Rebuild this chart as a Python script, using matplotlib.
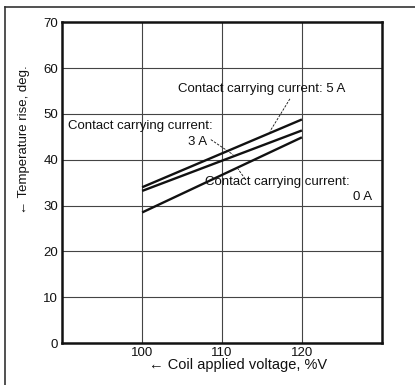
import matplotlib
matplotlib.use("Agg")
import matplotlib.pyplot as plt
from matplotlib.lines import Line2D

plt.rcParams["font.family"] = ["Liberation Sans", "DejaVu Sans"]

# ── Data ──────────────────────────────────────────────────────────────────────
VOLTAGE = [100, 120]           # coil applied voltage, %V
RISE_5A = [34.0, 48.8]         # temperature rise, deg.
RISE_3A = [33.2, 46.4]
RISE_0A = [28.5, 44.9]

Y_TICKS = [0, 10, 20, 30, 40, 50, 60, 70]
X_TICKS = [100, 110, 120]

INK = "#111111"

fig = plt.figure(figsize=(4.15, 3.85), dpi=100)
fig.patch.set_facecolor("white")
ax = fig.add_axes([0.150, 0.109, 0.770, 0.833])

# grid (only the inner lines, frame is the spines)
for y in Y_TICKS[1:-1]:
    ax.axhline(y, color="#444444", linewidth=0.8, zorder=0)
for x in X_TICKS:
    ax.axvline(x, color="#444444", linewidth=0.8, zorder=0)

for rise in (RISE_5A, RISE_3A, RISE_0A):
    ax.plot(VOLTAGE, rise, color=INK, linewidth=1.7, solid_capstyle="butt", zorder=3)

ax.set_xlim(90, 130)
ax.set_ylim(0, 70)
ax.set_xticks(X_TICKS)
ax.set_yticks(Y_TICKS)
ax.tick_params(length=0, labelsize=9.5, colors=INK, pad=3)
for spine in ax.spines.values():
    spine.set_linewidth(1.8)
    spine.set_color(INK)

ax.set_xlabel("← Coil applied voltage, %V", fontsize=10.5, color=INK)
ax.xaxis.set_label_coords(0.55, -0.069)
ax.set_ylabel("← Temperature rise, deg.", fontsize=9.5, color=INK)
ax.yaxis.set_label_coords(-0.119, 0.633)
ax.xaxis.label.set_va("center")
ax.yaxis.label.set_va("center")

# ── Labels with leader lines ──────────────────────────────────────────────────
FS = 9.5
ax.text(125.4, 55.5, "Contact carrying current: 5 A", ha="right", va="center",
        fontsize=FS, color=INK, zorder=4)
ax.plot([118.5, 116.0], [53.3, 46.2], color=INK, linewidth=0.6,
        linestyle=(0, (3, 1.5)), zorder=4)

ax.text(90.7, 47.4, "Contact carrying current:", ha="left", va="center",
        fontsize=FS, color=INK, zorder=4)
ax.text(106.9, 43.9, "3 A", ha="center", va="center", fontsize=FS, color=INK, zorder=4)
ax.plot([108.6, 111.4], [44.4, 41.1], color=INK, linewidth=0.6,
        linestyle=(0, (3, 1.5)), zorder=4)

ax.text(107.9, 35.1, "Contact carrying current:", ha="left", va="center",
        fontsize=FS, color=INK, zorder=4)
ax.text(128.8, 31.8, "0 A", ha="right", va="center", fontsize=FS, color=INK, zorder=4)
ax.plot([112.9, 112.0], [35.8, 38.0], color=INK, linewidth=0.6,
        linestyle=(0, (3, 1.5)), zorder=4)

# page frame, top and left edges
fig.add_artist(Line2D([5 / 415, 1.0], [1 - 7 / 385, 1 - 7 / 385],
                      transform=fig.transFigure, color="#333333", linewidth=1.2))
fig.add_artist(Line2D([5 / 415, 5 / 415], [0.0, 1 - 7 / 385],
                      transform=fig.transFigure, color="#333333", linewidth=1.2))

fig.savefig("out.png", dpi=100, facecolor="white")
